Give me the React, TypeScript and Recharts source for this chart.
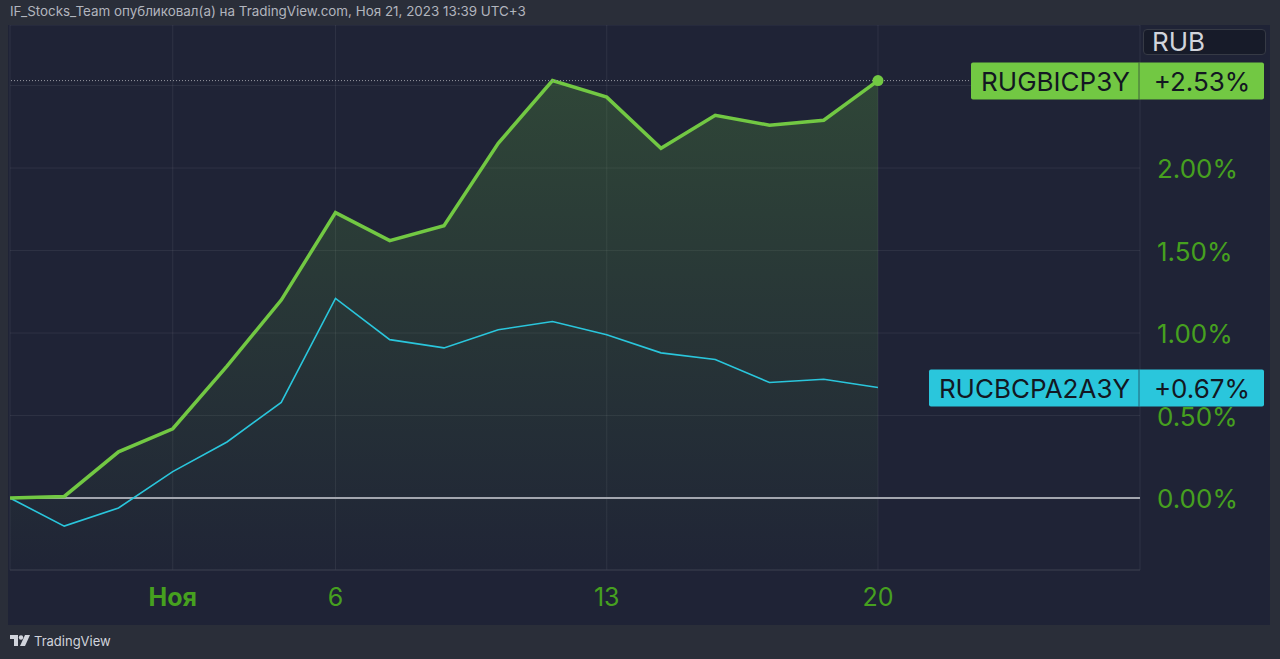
import { ComposedChart, Line, Area, XAxis, YAxis, CartesianGrid, ReferenceLine } from 'recharts';

// trading days, Oct 27 -> Nov 20, 2023
const days = ['27', '30', '31', '1', '2', '3', '6', '7', '8', '9', '10', '13', '14', '15', '16', '17', '20'];
const rugbicp3y = [0, 0.01, 0.28, 0.42, 0.8, 1.2, 1.73, 1.56, 1.65, 2.15, 2.53, 2.43, 2.12, 2.32, 2.26, 2.29, 2.53];
const rucbcpa2a3y = [0, -0.17, -0.06, 0.16, 0.34, 0.58, 1.21, 0.96, 0.91, 1.02, 1.07, 0.99, 0.88, 0.84, 0.7, 0.72, 0.67];
const xTicks = [3, 6, 11, 16];
const xTickLabels = ['Ноя', '6', '13', '20'];
const yTicks = [0, 0.5, 1, 1.5, 2, 2.5];

const GREEN = '#72c843';
const CYAN = '#2ac6dc';
const AXIS_TEXT = '#46a01f';
const FONT = 'Inter, "Noto Sans", sans-serif';

const data = days.map((day, i) => ({ i, day, green: rugbicp3y[i], cyan: rucbcpa2a3y[i] }));

const XTick = (props: any) => {
  const { x, y, payload } = props;
  const idx = xTicks.indexOf(payload.value);
  const label = xTickLabels[idx] ?? '';
  return (
    <text x={x} y={y + 28} textAnchor="middle" fill={AXIS_TEXT} fontSize={25} fontFamily={FONT}
      fontWeight={label === 'Ноя' ? 700 : 400}>
      {label}
    </text>
  );
};

const YTick = (props: any) => {
  const { x, y, payload } = props;
  // 2.50% sits under the series badge in the original
  if (payload.value === 2.5) return <g />;
  return (
    <text x={x + 9} y={y + 10} textAnchor="start" fill={AXIS_TEXT} fontSize={26} fontFamily={FONT}>
      {payload.value.toFixed(2)}%
    </text>
  );
};

const badge = (name: string, value: number, color: string, nameWidth: number) => (props: any) => {
  const vb = props.viewBox;
  const right = vb.x + vb.width;
  const top = vb.y - 18;
  const h = 37;
  return (
    <g>
      <rect x={right - nameWidth} y={top} width={nameWidth + 124} height={h} rx={2} fill={color} />
      <line x1={right - 1} x2={right - 1} y1={top} y2={top + h} stroke="#1f2336" strokeOpacity={0.6} />
      <text x={right - nameWidth / 2} y={top + 28} textAnchor="middle" fill="#131722" fontSize={26} fontFamily={FONT}>
        {name}
      </text>
      <text x={right + 62} y={top + 28} textAnchor="middle" fill="#131722" fontSize={26} fontFamily={FONT}>
        {'+' + value.toFixed(2) + '%'}
      </text>
    </g>
  );
};

const lastDot = (props: any) => {
  const { cx, cy, index } = props;
  if (index !== data.length - 1) return <g key={index} />;
  return <circle key={index} cx={cx} cy={cy} r={5.5} fill={GREEN} />;
};

export default function App() {
  return (
    <div style={{ position: 'fixed', left: 0, top: 0, width: 1280, height: 659, background: '#2a2e39', fontFamily: FONT }}>
      <div style={{ position: 'absolute', left: 10, top: 3, fontSize: 13.4, color: '#b2b5be', whiteSpace: 'nowrap' }}>
        IF_Stocks_Team опубликовал(а) на TradingView.com, Ноя 21, 2023 13:39 UTC+3
      </div>
      <div style={{ position: 'absolute', left: 8, top: 25, width: 1262, height: 600, background: '#1f2336' }}>
        <ComposedChart width={1262} height={600} data={data} margin={{ top: 0, right: 0, left: 2, bottom: 0 }}>
          <defs>
            <linearGradient id="greenFill" x1="0" y1="0" x2="0" y2="1">
              <stop offset="0%" stopColor="#5fae3c" stopOpacity={0.42} />
              <stop offset="100%" stopColor="#5fae3c" stopOpacity={0.02} />
            </linearGradient>
          </defs>
          <CartesianGrid stroke="#ffffff" strokeOpacity={0.07} />
          <XAxis dataKey="i" type="number" domain={[0, 20.83]} ticks={xTicks} allowDataOverflow
            height={55} tickLine={false} axisLine={{ stroke: '#363a4b' }} tick={<XTick />} />
          <YAxis orientation="right" width={130} domain={[-0.436, 2.867]} ticks={yTicks} allowDataOverflow
            tickLine={false} axisLine={false} tick={<YTick />} />
          <ReferenceLine y={0} stroke="#a3a6af" strokeWidth={2} />
          <Area type="linear" dataKey="green" stroke="none" fill="url(#greenFill)" baseValue="dataMin"
            isAnimationActive={false} />
          <Line type="linear" dataKey="cyan" stroke={CYAN} strokeWidth={1.6} dot={false} isAnimationActive={false} />
          <Line type="linear" dataKey="green" stroke={GREEN} strokeWidth={3.5} dot={lastDot} isAnimationActive={false} />
          <ReferenceLine y={rugbicp3y[rugbicp3y.length - 1]} stroke="#9598a1" strokeDasharray="1 2" ifOverflow="visible"
            label={badge('RUGBICP3Y', rugbicp3y[rugbicp3y.length - 1], GREEN, 169)} />
          <ReferenceLine y={rucbcpa2a3y[rucbcpa2a3y.length - 1]} stroke="none" ifOverflow="visible"
            label={badge('RUCBCPA2A3Y', rucbcpa2a3y[rucbcpa2a3y.length - 1], CYAN, 211)} />
        </ComposedChart>
        <div style={{ position: 'absolute', left: 1135, top: 4, width: 113, height: 24, border: '1px solid #363a45', borderRadius: 4,
          background: '#171b29', color: '#d1d4dc', fontSize: 26, lineHeight: '24px', paddingLeft: 8 }}>
          RUB
        </div>
      </div>
      <div style={{ position: 'absolute', left: 10, top: 633, fontSize: 13, color: '#d1d4dc', display: 'flex', alignItems: 'center' }}>
        <svg width="20" height="12" viewBox="0 0 20 12" style={{ marginRight: 4 }}>
          <path d="M0 0h8v11h-4v-7h-4z" fill="#d1d4dc" />
          <circle cx="11" cy="2.5" r="2.2" fill="#d1d4dc" />
          <path d="M15 0h5l-5 11h-5z" fill="#d1d4dc" />
        </svg>
        TradingView
      </div>
    </div>
  );
}
